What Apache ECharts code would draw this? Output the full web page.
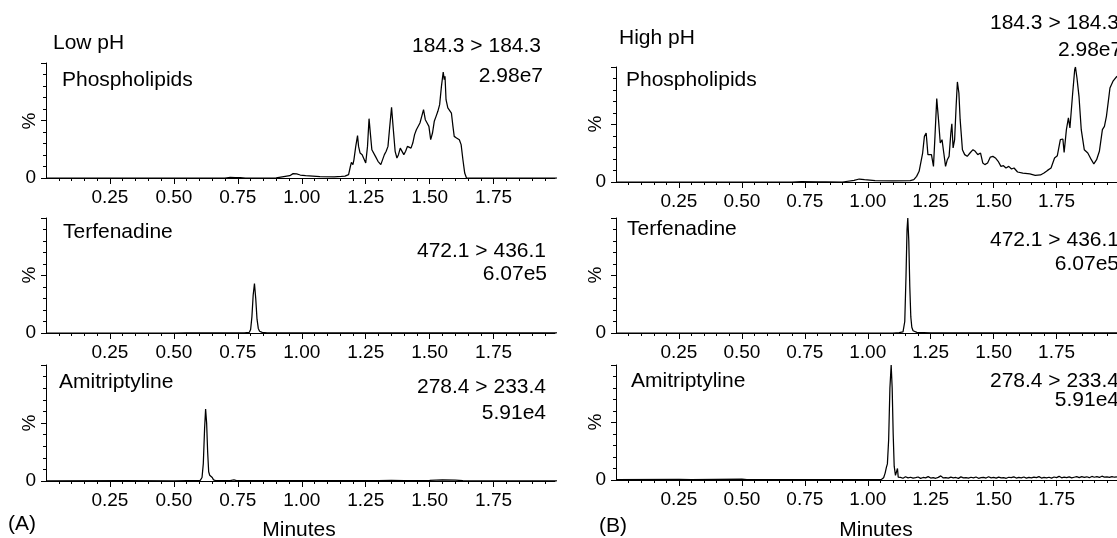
<!DOCTYPE html>
<html><head><meta charset="utf-8">
<script src="https://cdn.jsdelivr.net/npm/echarts@6/dist/echarts.min.js"></script>
<style>html,body{margin:0;padding:0;background:#fff}#c{width:1117px;height:538px}</style>
</head><body><div id="c"></div>
<script>
// ---------- data (time in minutes, intensity in %) ----------
const xTickValues = [0.25, 0.50, 0.75, 1.00, 1.25, 1.50, 1.75];

const lowPhospholipids = [[0,0],[0.70,0],[0.72,0.5],[0.74,0.3],[0.76,0.4],[0.78,0],[0.90,0.2],[0.953,2],[0.966,3.8],[0.973,2.6],[0.980,3.5],[0.994,2.6],[1.015,2],[1.071,1.2],[1.127,0.9],[1.155,1.4],[1.169,1.7],[1.183,2.9],[1.190,10],[1.194,13.6],[1.200,11.6],[1.204,16],[1.211,27.5],[1.218,36.8],[1.222,27.5],[1.228,21.7],[1.236,20.3],[1.242,18.8],[1.250,13],[1.257,27.5],[1.263,51.6],[1.268,39],[1.274,24.6],[1.281,23.2],[1.288,18.8],[1.298,14.5],[1.309,11.6],[1.316,10.7],[1.323,20.3],[1.330,23.2],[1.337,27.5],[1.344,44.9],[1.351,61.4],[1.358,42],[1.365,23.2],[1.372,17.4],[1.378,20.3],[1.385,26],[1.392,26],[1.399,20.3],[1.406,23.2],[1.413,27.5],[1.420,28.1],[1.427,26],[1.434,30.4],[1.441,37.7],[1.448,42],[1.455,42],[1.462,47.8],[1.469,53.6],[1.476,59.4],[1.483,50.7],[1.490,47.8],[1.497,44.9],[1.504,33.3],[1.511,39.1],[1.518,49.3],[1.525,53.6],[1.532,58],[1.539,63.8],[1.546,79.7],[1.553,92.2],[1.557,85.5],[1.560,88.4],[1.564,68.1],[1.571,60.9],[1.577,61.7],[1.585,56.5],[1.591,44.9],[1.596,36.2],[1.605,34.8],[1.616,33.3],[1.623,29],[1.630,15.9],[1.637,4.3],[1.644,0],[1.70,0],[2.0,0]];

const lowTerfenadine = [[0,0],[0.50,0],[0.55,0.2],[0.775,0.2],[0.795,0.6],[0.80,3],[0.805,14],[0.81,33],[0.815,43],[0.82,30],[0.825,12],[0.83,4],[0.835,1.5],[0.845,0.5],[0.865,0.2],[1.0,0.1],[2.0,0]];

const lowAmitriptyline = [[0,0.2],[0.3,0.3],[0.5,0.2],[0.603,0.5],[0.610,3],[0.615,15],[0.620,45],[0.624,62],[0.628,50],[0.632,25],[0.636,8],[0.640,5],[0.645,4.5],[0.650,3],[0.655,1],[0.663,0.4],[0.72,0.4],[0.735,0.9],[0.745,0.4],[1.0,0.3],[1.3,0.3],[1.35,0.6],[1.4,0.4],[1.5,0.5],[1.55,1],[1.6,0.8],[1.63,0.3],[2.0,0.2]];

const highPhospholipids = [[0,0],[0.70,0],[0.736,0.3],[0.80,0.2],[0.834,0.2],[0.90,0],[0.946,1.4],[0.966,2.6],[0.987,2],[1.029,1.2],[1.099,0.9],[1.169,1.2],[1.183,2],[1.194,4.9],[1.204,9.3],[1.211,10.7],[1.218,25.2],[1.225,39.7],[1.232,42.6],[1.239,23.8],[1.246,22.3],[1.253,23.8],[1.261,13.6],[1.267,39.7],[1.274,72.5],[1.281,54.2],[1.288,33.9],[1.295,36.8],[1.302,25.2],[1.309,13.6],[1.316,19.4],[1.323,22.3],[1.330,42.6],[1.334,50.7],[1.339,29.6],[1.345,36.8],[1.351,65.8],[1.356,87],[1.362,77.4],[1.367,54.2],[1.376,28.1],[1.385,23.8],[1.395,22.3],[1.406,25.2],[1.418,28.1],[1.427,26.7],[1.437,23.8],[1.448,25.2],[1.457,16.5],[1.465,15.1],[1.476,16.5],[1.487,21.7],[1.497,22.3],[1.507,20.9],[1.518,18],[1.529,13.6],[1.539,14.2],[1.549,12.2],[1.560,13.6],[1.571,11.3],[1.581,12.2],[1.595,8.7],[1.616,7.8],[1.644,7],[1.665,5.8],[1.686,6.1],[1.700,7.8],[1.714,10.1],[1.728,12.2],[1.742,20.9],[1.753,22.9],[1.765,36.8],[1.775,37.4],[1.780,25.8],[1.789,45.5],[1.797,55.7],[1.803,47],[1.814,77.4],[1.822,97.7],[1.825,100],[1.831,90.4],[1.839,74.5],[1.848,45.5],[1.860,28.1],[1.874,25.2],[1.888,19.4],[1.898,15.7],[1.909,19.4],[1.920,26.7],[1.932,45.5],[1.940,48.4],[1.948,57.1],[1.958,74.5],[1.962,81.7],[1.975,88],[1.99,92]];

const highTerfenadine = [[0,0],[1.10,0],[1.125,0.3],[1.14,1],[1.147,10],[1.152,50],[1.156,90],[1.159,100],[1.163,80],[1.167,40],[1.171,14],[1.175,5],[1.18,2],[1.185,1],[1.195,0.5],[1.25,0.2],[2.0,0]];

const highAmitriptyline = [[0,0.4],[0.25,0.6],[0.3,0.3],[0.5,0.7],[0.52,0.3],[1.0,0.4],[1.055,0.6],[1.063,2],[1.069,6],[1.074,11],[1.078,14],[1.083,35],[1.088,80],[1.093,100],[1.097,80],[1.101,40],[1.105,12],[1.11,4],[1.115,3],[1.118,10],[1.121,2.5],
[1.13,2.2],[1.14,1.5],[1.15,2.8],[1.16,1.9],[1.17,2.4],[1.18,1.6],[1.19,2.0],[1.20,2.6],[1.21,1.4],[1.22,2.2],[1.23,1.8],[1.24,2.9],[1.25,1.7],[1.26,2.1],[1.27,1.5],[1.28,2.3],[1.29,3.6],[1.30,1.8],[1.31,2.0],[1.32,1.6],[1.33,2.5],[1.34,1.9],[1.35,2.2],[1.36,1.4],[1.37,2.7],[1.38,1.8],[1.39,2.1],[1.40,1.6],[1.41,2.4],[1.42,1.9],[1.43,2.6],[1.44,1.5],[1.45,2.0],[1.46,2.3],[1.47,1.7],[1.48,2.8],[1.49,1.9],[1.50,2.2],[1.51,1.6],[1.52,2.5],[1.53,1.8],[1.54,2.1],[1.55,1.5],[1.56,2.4],[1.57,2.0],[1.58,2.7],[1.59,1.7],[1.60,2.2],[1.61,1.9],[1.62,2.6],[1.63,1.6],[1.64,2.3],[1.65,1.8],[1.66,2.5],[1.67,2.0],[1.68,2.9],[1.69,1.7],[1.70,2.2],[1.71,1.9],[1.72,2.4],[1.73,1.6],[1.74,2.6],[1.75,2.1],[1.76,3.2],[1.77,1.9],[1.78,2.5],[1.79,2.0],[1.80,2.7],[1.81,1.8],[1.82,2.4],[1.83,2.9],[1.84,2.1],[1.85,3.0],[1.86,2.3],[1.87,2.8],[1.88,2.0],[1.89,3.1],[1.90,2.4],[1.91,2.9],[1.92,2.2],[1.93,3.3],[1.94,2.5],[1.95,2.8],[1.96,2.3],[1.97,3.0],[1.98,2.4],[1.99,2.7]];

const traces = [lowPhospholipids, lowTerfenadine, lowAmitriptyline, highPhospholipids, highTerfenadine, highAmitriptyline];

// ---------- layout ----------
const FONT = '"Liberation Sans", Arial, sans-serif';
const grids = [
  {left:46, top:63, width:509, height:115},
  {left:46, top:218, width:509, height:115},
  {left:46, top:365, width:509, height:116},
  {left:616, top:67, width:509, height:115},
  {left:616, top:218, width:509, height:115},
  {left:616, top:365, width:509, height:115}
];

const texts = [
  ['Low pH', 53, 43, 'left'], ['184.3 > 184.3', 541, 46, 'right'], ['Phospholipids', 62, 80, 'left'], ['2.98e7', 543, 76, 'right'],
  ['Terfenadine', 63, 232, 'left'], ['472.1 > 436.1', 546, 251, 'right'], ['6.07e5', 547, 274, 'right'],
  ['Amitriptyline', 59, 382, 'left'], ['278.4 > 233.4', 546, 387, 'right'], ['5.91e4', 546, 413, 'right'],
  ['(A)', 8, 524, 'left'], ['Minutes', 299, 530, 'center'],
  ['High pH', 619, 38, 'left'], ['184.3 > 184.3', 990, 23, 'left'], ['Phospholipids', 626, 80, 'left'], ['2.98e7', 1058, 50, 'left'],
  ['Terfenadine', 627, 229, 'left'], ['472.1 > 436.1', 1119, 240, 'right'], ['6.07e5', 1119, 264, 'right'],
  ['Amitriptyline', 631, 381, 'left'], ['278.4 > 233.4', 1119, 381, 'right'], ['5.91e4', 1119, 400, 'right'],
  ['(B)', 599, 526, 'left'], ['Minutes', 876, 530, 'center']
];
// rotated "%" axis titles: [x, y]
const percentTitles = [[30, 121], [30, 275], [30, 423], [596, 124], [596, 275], [596, 422]];

const black = '#000';
const option = {
  backgroundColor: '#fff',
  animation: false,
  textStyle: {fontFamily: FONT},
  grid: grids,
  xAxis: grids.map((g, i) => ({
    type: 'value', gridIndex: i, min: 0, max: 1.99, interval: 0.25,
    axisLine: {show: true, onZero: false, lineStyle: {color: black, width: 1}},
    axisTick: {show: true, length: 6, customValues: xTickValues, lineStyle: {color: black, width: 1}},
    minorTick: {show: true, splitNumber: 5, length: 3, lineStyle: {color: black, width: 1}},
    axisLabel: {customValues: xTickValues, formatter: v => Number(v).toFixed(2), fontSize: 19, color: black, margin: 10, fontFamily: FONT},
    splitLine: {show: false}, minorSplitLine: {show: false}
  })),
  yAxis: grids.map((g, i) => ({
    type: 'value', gridIndex: i, min: 0, max: 100, interval: 50,
    axisLine: {show: true, onZero: false, lineStyle: {color: black, width: 1}},
    axisTick: {show: true, length: 5, lineStyle: {color: black, width: 1}},
    minorTick: {show: true, splitNumber: 5, length: 3, lineStyle: {color: black, width: 1}},
    axisLabel: {formatter: v => (v === 0 ? '0' : ''), fontSize: 19, color: black, margin: 10, fontFamily: FONT},
    splitLine: {show: false}, minorSplitLine: {show: false}
  })),
  series: traces.map((d, i) => ({
    type: 'line', xAxisIndex: i, yAxisIndex: i, data: d,
    showSymbol: false, symbol: 'none', silent: true, clip: true,
    lineStyle: {color: black, width: 1.25}
  })),
  graphic: texts.map(t => ({
    type: 'text', x: t[1], y: t[2], silent: true,
    style: {text: t[0], fill: black, font: '21px ' + FONT, align: t[3], verticalAlign: 'middle'}
  })).concat(percentTitles.map(p => ({
    type: 'text', x: p[0], y: p[1], rotation: Math.PI / 2, silent: true,
    style: {text: '%', fill: black, font: '19px ' + FONT, align: 'center', verticalAlign: 'middle'}
  })))
};

const chart = echarts.init(document.getElementById('c'), null, {renderer: 'canvas'});
chart.setOption(option);
</script>
</body></html>
